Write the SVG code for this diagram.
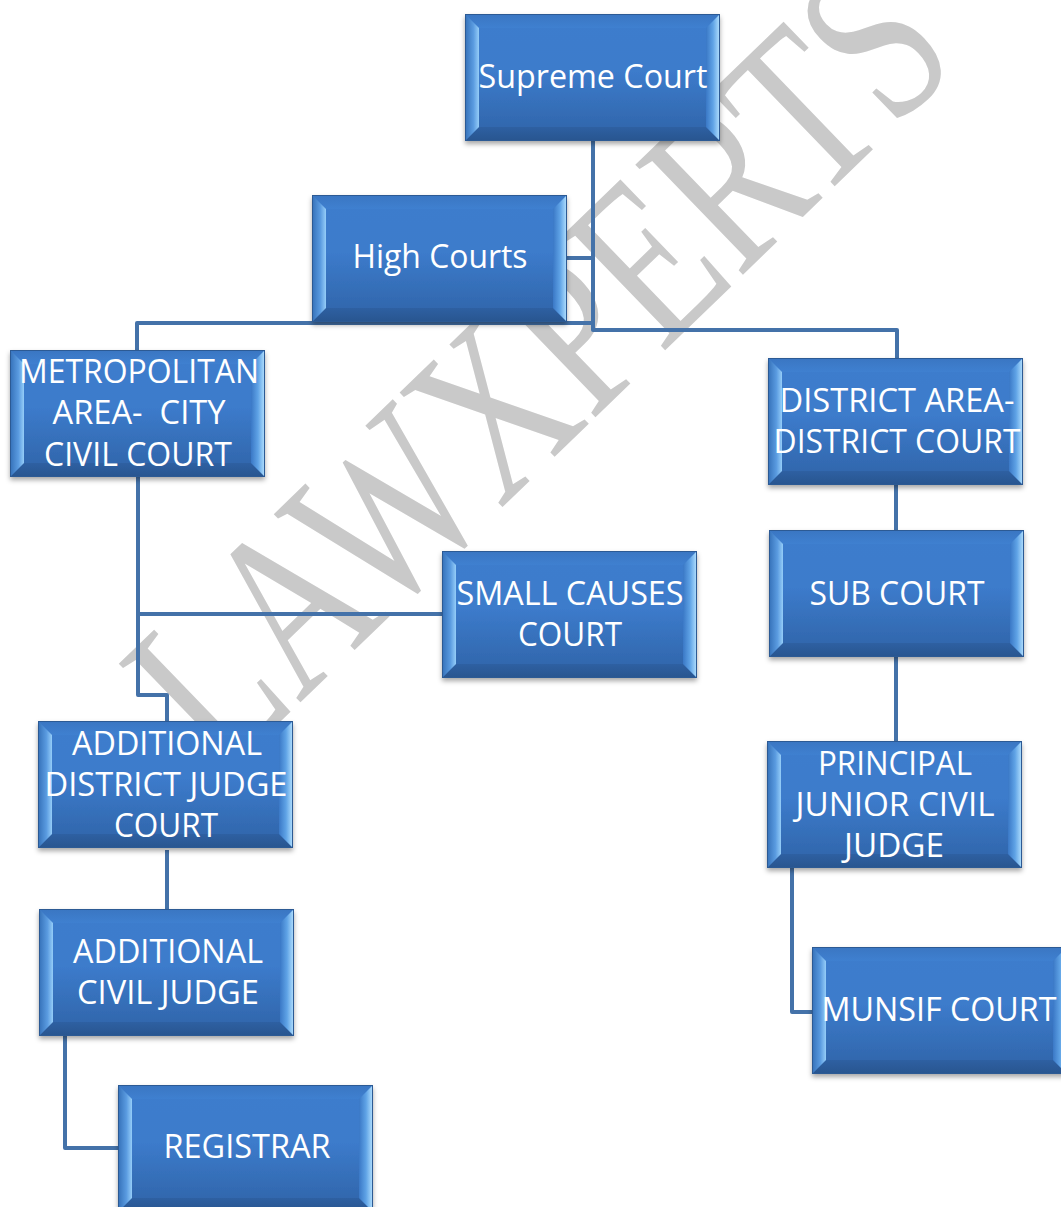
<svg xmlns="http://www.w3.org/2000/svg" xmlns:xlink="http://www.w3.org/1999/xlink" width="1061" height="1207" viewBox="0 0 1061 1207">
  <style>
    .lbl { font-family: "Open Sans", "Noto Sans", "Liberation Sans", sans-serif; font-size: 32px; fill: #ffffff; text-anchor: middle; white-space: pre; }
    .conn { fill: none; stroke: #4472a9; stroke-width: 4; stroke-linejoin: round; stroke-linecap: butt; }
    .wm { font-family: "Liberation Serif", "DejaVu Serif", serif; font-size: 235px; fill: #c9c9c9; }
  </style>
  <defs>
    <linearGradient id="gFace" x1="0" y1="0" x2="0" y2="1">
      <stop offset="0" stop-color="#3d7dcd"/>
      <stop offset="0.45" stop-color="#3c7bcb"/>
      <stop offset="1" stop-color="#2f63a7"/>
    </linearGradient>
    <linearGradient id="gTop" x1="0" y1="0" x2="0" y2="1">
      <stop offset="0" stop-color="#3a76c2"/>
      <stop offset="1" stop-color="#3f80d0"/>
    </linearGradient>
    <linearGradient id="gBot" x1="0" y1="0" x2="0" y2="1">
      <stop offset="0" stop-color="#2e60a2"/>
      <stop offset="1" stop-color="#28558f"/>
    </linearGradient>
    <linearGradient id="gLeft" x1="0" y1="0" x2="1" y2="0">
      <stop offset="0" stop-color="#3470b8"/>
      <stop offset="0.6" stop-color="#5a9be0"/>
      <stop offset="1" stop-color="#95cdf8"/>
    </linearGradient>
    <linearGradient id="gRight" x1="0" y1="0" x2="1" y2="0">
      <stop offset="0" stop-color="#3a78c6"/>
      <stop offset="0.5" stop-color="#5fa3e6"/>
      <stop offset="1" stop-color="#b5e2ff"/>
    </linearGradient>
    <filter id="sh" x="-10%" y="-10%" width="120%" height="130%">
      <feDropShadow dx="0" dy="3" stdDeviation="2.5" flood-color="#000" flood-opacity="0.35"/>
    </filter>
    <g id="box">
      <rect x="0" y="0" width="255" height="127" fill="url(#gFace)" filter="url(#sh)"/>
      <polygon points="0,0 255,0 241,14 14,14" fill="url(#gTop)"/>
      <polygon points="0,127 255,127 241,113 14,113" fill="url(#gBot)"/>
      <polygon points="0,0 14,14 14,113 0,127" fill="url(#gLeft)"/>
      <polygon points="255,0 241,14 241,113 255,127" fill="url(#gRight)"/>
      <rect x="0.5" y="0.5" width="254" height="126" fill="none" stroke="#2c5a94" stroke-width="1"/>
    </g>
  </defs>

  <g id="watermark">
    <text class="wm" transform="translate(222,778) rotate(-44)" textLength="1030" lengthAdjust="spacingAndGlyphs">LAWXPERTS</text>
  </g>

  <g id="connectors">
    <path class="conn" d="M593,140 V330 H897 V358"/>
    <path class="conn" d="M566,258 H593"/>
    <path class="conn" d="M593,323 H137 V350"/>
    <path class="conn" d="M138,477 V695 H167 V721"/>
    <path class="conn" d="M138,614 H442"/>
    <path class="conn" d="M896,485 V530"/>
    <path class="conn" d="M896,657 V741"/>
    <path class="conn" d="M167,850 V909"/>
    <path class="conn" d="M65,1035 V1148 H118"/>
    <path class="conn" d="M792,868 V1012 H812"/>
  </g>

  <g id="supreme-court" transform="translate(465,14)">
    <use xlink:href="#box"/>
    <text class="lbl" x="128" y="74" textLength="229" lengthAdjust="spacingAndGlyphs">Supreme Court</text>
  </g>

  <g id="high-courts" transform="translate(312,195)">
    <use xlink:href="#box"/>
    <text class="lbl" x="128" y="73" textLength="175" lengthAdjust="spacingAndGlyphs">High Courts</text>
  </g>

  <g id="city-civil-court" transform="translate(10,350)">
    <use xlink:href="#box"/>
    <text class="lbl" x="129" y="33" textLength="240" lengthAdjust="spacingAndGlyphs">METROPOLITAN</text>
    <text class="lbl" x="129" y="74" textLength="173" lengthAdjust="spacingAndGlyphs">AREA-  CITY</text>
    <text class="lbl" x="128" y="116" textLength="188" lengthAdjust="spacingAndGlyphs">CIVIL COURT</text>
  </g>

  <g id="district-court" transform="translate(768,358)">
    <use xlink:href="#box"/>
    <text class="lbl" x="129" y="54" textLength="235" lengthAdjust="spacingAndGlyphs">DISTRICT AREA-</text>
    <text class="lbl" x="129" y="95" textLength="247" lengthAdjust="spacingAndGlyphs">DISTRICT COURT</text>
  </g>

  <g id="small-causes-court" transform="translate(442,551)">
    <use xlink:href="#box"/>
    <text class="lbl" x="128" y="54" textLength="227" lengthAdjust="spacingAndGlyphs">SMALL CAUSES</text>
    <text class="lbl" x="128" y="95" textLength="104" lengthAdjust="spacingAndGlyphs">COURT</text>
  </g>

  <g id="sub-court" transform="translate(769,530)">
    <use xlink:href="#box"/>
    <text class="lbl" x="128" y="75" textLength="175" lengthAdjust="spacingAndGlyphs">SUB COURT</text>
  </g>

  <g id="additional-district-judge-court" transform="translate(38,721)">
    <use xlink:href="#box"/>
    <text class="lbl" x="129" y="34" textLength="190" lengthAdjust="spacingAndGlyphs">ADDITIONAL</text>
    <text class="lbl" x="128" y="75" textLength="243" lengthAdjust="spacingAndGlyphs">DISTRICT JUDGE</text>
    <text class="lbl" x="128" y="116" textLength="104" lengthAdjust="spacingAndGlyphs">COURT</text>
  </g>

  <g id="principal-junior-civil-judge" transform="translate(767,741)">
    <use xlink:href="#box"/>
    <text class="lbl" x="128" y="34" textLength="154" lengthAdjust="spacingAndGlyphs">PRINCIPAL</text>
    <text class="lbl" x="128" y="75" textLength="199" lengthAdjust="spacingAndGlyphs">JUNIOR CIVIL</text>
    <text class="lbl" x="127" y="116" textLength="100" lengthAdjust="spacingAndGlyphs">JUDGE</text>
  </g>

  <g id="additional-civil-judge" transform="translate(39,909)">
    <use xlink:href="#box"/>
    <text class="lbl" x="129" y="54" textLength="190" lengthAdjust="spacingAndGlyphs">ADDITIONAL</text>
    <text class="lbl" x="129" y="95" textLength="182" lengthAdjust="spacingAndGlyphs">CIVIL JUDGE</text>
  </g>

  <g id="munsif-court" transform="translate(812,947)">
    <use xlink:href="#box"/>
    <text class="lbl" x="127" y="74" textLength="235" lengthAdjust="spacingAndGlyphs">MUNSIF COURT</text>
  </g>

  <g id="registrar" transform="translate(118,1085)">
    <use xlink:href="#box"/>
    <text class="lbl" x="129" y="73" textLength="167" lengthAdjust="spacingAndGlyphs">REGISTRAR</text>
  </g>
</svg>
